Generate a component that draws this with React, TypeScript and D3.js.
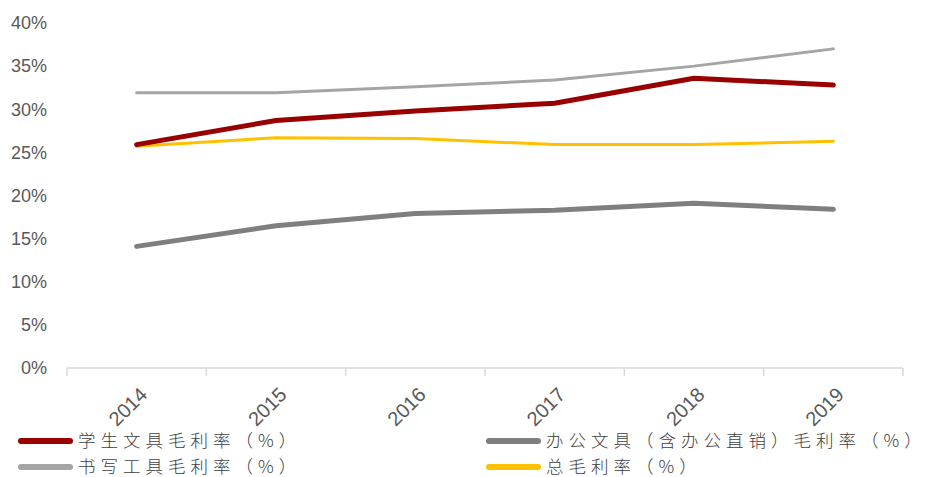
import * as d3 from "d3";
import { useEffect, useRef } from "react";

const years = ["2014", "2015", "2016", "2017", "2018", "2019"];
const student = [25.9, 28.7, 29.8, 30.7, 33.6, 32.8];
const office = [14.1, 16.5, 17.9, 18.3, 19.1, 18.4];
const writing = [31.9, 31.9, 32.6, 33.4, 35.0, 37.0];
const total = [25.7, 26.7, 26.6, 25.9, 25.9, 26.3];
const yTicks = [0, 5, 10, 15, 20, 25, 30, 35, 40];

const series = [
  { name: "学生文具毛利率（%）", values: student, color: "#990000", width: 5 },
  { name: "办公文具（含办公直销）毛利率（%）", values: office, color: "#7f7f7f", width: 5 },
  { name: "书写工具毛利率（%）", values: writing, color: "#a5a5a5", width: 3 },
  { name: "总毛利率（%）", values: total, color: "#ffc000", width: 3 },
];

const App = () => {
  const svgRef = useRef<SVGSVGElement | null>(null);
  const w = 935;
  const h = 477;
  const m = { top: 23, left: 67, right: 32, bottom: 109 };

  useEffect(() => {
    if (!svgRef.current) return;
    const svg = d3.select(svgRef.current);
    svg.selectAll("*").remove();

    const x = d3.scaleBand<string>().domain(years).range([m.left, w - m.right]);
    const y = d3.scaleLinear().domain([0, 40]).range([h - m.bottom, m.top]);
    const cx = (d: string) => x(d)! + x.bandwidth() / 2;

    // y labels
    svg.append("g")
      .selectAll("text")
      .data(yTicks)
      .enter().append("text")
      .attr("x", 47)
      .attr("y", d => y(d))
      .attr("dy", "0.35em")
      .attr("text-anchor", "end")
      .attr("font-family", "Liberation Sans, Arial, sans-serif")
      .attr("font-size", 18)
      .attr("fill", "#595959")
      .text(d => `${d}%`);

    // x axis
    const axis = svg.append("g");
    axis.append("line")
      .attr("x1", m.left).attr("x2", w - m.right)
      .attr("y1", y(0)).attr("y2", y(0))
      .attr("stroke", "#d9d9d9").attr("stroke-width", 1.5);
    const edges = years.map(d => x(d)!).concat([w - m.right]);
    axis.selectAll("line.tick")
      .data(edges)
      .enter().append("line")
      .attr("class", "tick")
      .attr("x1", d => d).attr("x2", d => d)
      .attr("y1", y(0)).attr("y2", y(0) + 8)
      .attr("stroke", "#d9d9d9").attr("stroke-width", 1.5);
    axis.selectAll("text")
      .data(years)
      .enter().append("text")
      .attr("transform", d => `translate(${cx(d) + 2},${y(0) + 18}) rotate(-45)`)
      .attr("text-anchor", "end")
      .attr("dy", "0.7em")
      .attr("font-family", "Liberation Sans, Arial, sans-serif")
      .attr("font-size", 20)
      .attr("fill", "#595959")
      .text(d => d);

    // lines
    const line = d3.line<number>()
      .x((_, i) => cx(years[i]))
      .y(d => y(d));
    const order = [2, 3, 1, 0];
    order.forEach(i => {
      const s = series[i];
      svg.append("path")
        .datum(s.values)
        .attr("d", line)
        .attr("fill", "none")
        .attr("stroke", s.color)
        .attr("stroke-width", s.width)
        .attr("stroke-linecap", "round")
        .attr("stroke-linejoin", "round");
    });

    // legend
    const legendPos = [
      { x: 18, y: 441 },
      { x: 486, y: 441 },
      { x: 18, y: 467 },
      { x: 486, y: 467 },
    ];
    const lg = svg.append("g");
    series.forEach((s, i) => {
      const p = legendPos[i];
      lg.append("line")
        .attr("x1", p.x + 3).attr("x2", p.x + 52)
        .attr("y1", p.y).attr("y2", p.y)
        .attr("stroke", s.color)
        .attr("stroke-width", 6)
        .attr("stroke-linecap", "round");
      lg.append("text")
        .attr("x", p.x + 60)
        .attr("y", p.y)
        .attr("dy", "0.36em")
        .attr("font-family", "Noto Sans CJK SC, sans-serif")
        .attr("font-weight", 300)
        .attr("font-size", 17.5)
        .attr("letter-spacing", 5)
        .attr("fill", "#404040")
        .text(s.name);
    });
  }, []);

  return (
    <svg ref={svgRef} width={w} height={h} style={{ position: "fixed", top: 0, left: 0, background: "#fff" }}></svg>
  );
};

export default App;
